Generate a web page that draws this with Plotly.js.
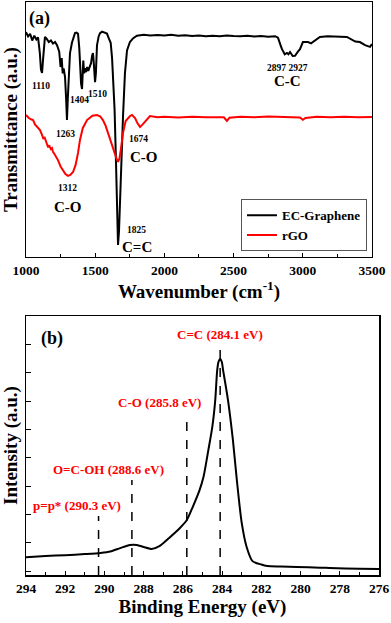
<!DOCTYPE html>
<html>
<head>
<meta charset="utf-8">
<script src="https://cdn.plot.ly/plotly-3.0.1.min.js"></script>
<style>
  html, body { margin: 0; padding: 0; background: #fff; }
  #chart { width: 391px; height: 623px; }
</style>
</head>
<body>
<div id="chart"></div>
<script>
// (a) FTIR spectra, wavenumber (cm-1) vs transmittance (a.u.)
const ecWavenumber = [1000, 1015, 1030, 1045, 1060, 1075, 1087, 1100, 1108, 1116, 1124, 1137, 1150, 1165, 1180, 1195, 1210, 1225, 1240, 1250, 1258, 1265, 1272, 1282, 1290, 1296, 1302, 1310, 1318, 1332, 1345, 1354, 1365, 1376, 1385, 1392, 1398, 1405, 1410, 1414, 1420, 1426, 1434, 1442, 1450, 1462, 1470, 1478, 1484, 1490, 1499, 1505, 1513, 1525, 1535, 1550, 1565, 1585, 1600, 1612, 1622, 1630, 1640, 1650, 1658, 1665, 1672, 1680, 1690, 1701, 1715, 1730, 1751, 1775, 1802, 1850, 1900, 1950, 2000, 2050, 2100, 2150, 2200, 2250, 2300, 2350, 2400, 2450, 2500, 2550, 2600, 2650, 2700, 2750, 2800, 2821, 2840, 2850, 2870, 2886, 2897, 2908, 2927, 2944, 2965, 2980, 3001, 3038, 3060, 3090, 3124, 3180, 3250, 3319, 3380, 3413, 3450, 3486, 3500];
const ecTransmittance = [88.2, 86.5, 87.5, 84.9, 86.8, 85.3, 86.1, 80, 73.5, 72.2, 78, 86.3, 85.5, 84.3, 84.9, 83.7, 84.3, 83, 80.5, 74.5, 78, 72, 74, 70.6, 62, 53.7, 62, 74, 80, 84, 86.8, 87.8, 88, 87.5, 82, 74, 68, 65.9, 72, 77, 72, 74, 72.5, 74.5, 73, 74.5, 76, 79, 80, 76, 68.6, 72, 83, 86.5, 87.8, 88.4, 88, 87.6, 85.5, 84, 78, 70, 58, 38, 18, 4.7, 10, 25, 40, 55, 72, 81, 84.3, 85.8, 86.8, 87.2, 86.9, 87.1, 86.9, 87.2, 86.8, 87.0, 86.7, 86.9, 86.6, 86.8, 86.6, 86.9, 86.7, 86.6, 86.8, 86.5, 86.7, 86.4, 86.6, 86.0, 83, 81.5, 79.5, 80, 79.5, 80.4, 78.8, 78.9, 80.5, 81.5, 84.3, 84.3, 83.8, 85, 86.3, 86.6, 86.3, 86.3, 84.5, 84.3, 83.1, 82.4, 83.5];

const rgoWavenumber = [1000, 1020, 1040, 1051, 1065, 1080, 1090, 1101, 1115, 1125, 1135, 1145, 1152, 1160, 1168, 1173, 1180, 1188, 1195, 1210, 1231, 1250, 1267, 1285, 1303, 1320, 1340, 1358, 1376, 1390, 1410, 1441, 1480, 1513, 1535, 1556, 1575, 1592, 1610, 1629, 1643, 1655, 1665, 1675, 1685, 1694, 1701, 1720, 1737, 1752, 1766, 1788, 1805, 1824, 1840, 1860, 1880, 1896, 1950, 2000, 2100, 2200, 2300, 2400, 2430, 2452, 2470, 2550, 2650, 2750, 2850, 2950, 2980, 3001, 3020, 3100, 3200, 3300, 3400, 3500];
const rgoTransmittance = [55.7, 54.5, 53.9, 53.7, 52, 51, 50.5, 49.8, 48, 46.5, 46.8, 44.7, 44.2, 43, 43.8, 43.1, 42.3, 42.7, 41.2, 40, 38, 35.5, 34.1, 32.5, 31.8, 32.2, 33.3, 36, 40.8, 45.9, 50.5, 53.7, 55.4, 55.7, 55.2, 53.7, 51.5, 48.6, 45.5, 43.1, 40.8, 38.5, 37.3, 38.5, 42, 45.9, 48.6, 53.3, 54.5, 55.3, 55.7, 54.5, 52.5, 51, 51.8, 52.9, 54.4, 55.3, 54.8, 55.0, 54.7, 55.0, 54.8, 55.0, 54.8, 53.4, 54.6, 55.0, 54.8, 55.1, 54.9, 54.8, 54.7, 53.8, 54.5, 55.0, 54.8, 55.0, 54.8, 54.9];

// (b) XPS C1s, binding energy (eV) vs intensity (a.u.)
const bindingEnergy = [294, 293, 292, 291, 290.2, 289.7, 289.2, 288.7, 288.35, 288.0, 287.6, 287.2, 286.7, 286.15, 285.8, 285.5, 285.15, 284.95, 284.7, 284.5, 284.35, 284.25, 284.18, 284.1, 284.02, 283.95, 283.7, 283.45, 283.25, 283.0, 282.75, 282.45, 282.0, 281.7, 281, 280.2, 279, 278.5, 277, 276];
const intensity = [4.9, 5.3, 5.6, 6.0, 6.4, 6.9, 8.1, 9.2, 9.2, 8.5, 7.8, 8.8, 11.7, 15.2, 18, 22.6, 28.6, 33.2, 42.8, 50.9, 60.4, 71, 74, 74.9, 74, 71, 60.4, 46.3, 32.2, 17, 8.5, 3.5, 2.3, 1.8, 1.6, 1.4, 1.2, 1.1, 0.8, 0.7];

const peakEnergies = [284.1, 285.8, 288.6, 290.3];
const peakLineTops = [78.8, 54.4, 32.2, 19.4];
const peakLabels = ['C=C (284.1 eV)', 'C-O (285.8 eV)', 'O=C-OH (288.6 eV)', 'p=p* (290.3 eV)'];
const peakLabelX = [284.11, 287.17, 289.77, 291.4];
const peakLabelY = [83.4, 59.4, 35.7, 23];

// labels on the FTIR panel
const irLabels = ['1110', '1263', '1404', '1510', '1674', '1312', '1825', '2897 2927'];
const irLabelX = [1108, 1282, 1387, 1516, 1816, 1303, 1802, 2893];
const irLabelY = [67.1, 48.2, 61.6, 63.9, 46.3, 27.1, 10.6, 74.1];
const bondLabels = ['C-O', 'C-O', 'C=C', 'C-C'];
const bondLabelX = [1853, 1303, 1802, 2893];
const bondLabelY = [39.2, 19.6, 3.9, 69];

const serif = 'Liberation Serif, Times New Roman, serif';

const data = [
  { x: ecWavenumber, y: ecTransmittance, type: 'scatter', mode: 'lines', name: 'EC-Graphene',
    line: { color: '#000000', width: 2 }, xaxis: 'x', yaxis: 'y' },
  { x: rgoWavenumber, y: rgoTransmittance, type: 'scatter', mode: 'lines', name: 'rGO',
    line: { color: '#ff0000', width: 2 }, xaxis: 'x', yaxis: 'y' },
  { x: bindingEnergy, y: intensity, type: 'scatter', mode: 'lines', showlegend: false,
    line: { color: '#000000', width: 2, shape: 'spline', smoothing: 0.7 }, xaxis: 'x2', yaxis: 'y2' }
];

const annotations = [];
irLabels.forEach((t, i) => annotations.push({
  text: t, x: irLabelX[i], y: irLabelY[i], xref: 'x', yref: 'y', showarrow: false,
  font: { family: serif, size: 9.5, color: '#000', weight: 'bold' }
}));
bondLabels.forEach((t, i) => annotations.push({
  text: t, x: bondLabelX[i], y: bondLabelY[i], xref: 'x', yref: 'y', showarrow: false,
  font: { family: serif, size: 15, color: '#000', weight: 'bold' }
}));
peakLabels.forEach((t, i) => annotations.push({
  text: t, x: peakLabelX[i], y: peakLabelY[i], xref: 'x2', yref: 'y2', showarrow: false,
  font: { family: serif, size: 13, color: '#ff0000', weight: 'bold' }
}));
annotations.push({ text: '(a)', x: 1101, y: 93.7, xref: 'x', yref: 'y', showarrow: false,
  font: { family: serif, size: 18, color: '#000', weight: 'bold' } });
annotations.push({ text: '(b)', x: 292.67, y: 82.3, xref: 'x2', yref: 'y2', showarrow: false,
  font: { family: serif, size: 18, color: '#000', weight: 'bold' } });

const shapes = peakEnergies.map((e, i) => ({
  type: 'line', xref: 'x2', yref: 'y2', x0: e, x1: e, y0: -1.4, y1: peakLineTops[i],
  line: { color: '#000', width: 1.5, dash: 'dash' }
}));

const tickFont = { family: serif, size: 13.5, color: '#000', weight: 'bold' };
const titleFont = { family: serif, size: 19, color: '#000', weight: 'bold' };
const frame = { showline: true, mirror: true, linecolor: '#000', linewidth: 1.5,
  showgrid: false, zeroline: false };

const layout = {
  width: 391, height: 623,
  margin: { l: 26, r: 12, t: 2, b: 48 },
  paper_bgcolor: '#fff', plot_bgcolor: '#fff',
  font: { family: serif, color: '#000' },
  showlegend: true,
  legend: {
    x: 0.609, y: 0.565, xanchor: 'left', yanchor: 'bottom',
    bgcolor: '#fff', bordercolor: '#555', borderwidth: 1,
    font: { family: serif, size: 13, color: '#000', weight: 'bold' },
    itemwidth: 30, tracegroupgap: 0
  },
  xaxis: Object.assign({}, frame, {
    domain: [0, 0.98], anchor: 'y', range: [1000, 3500],
    tick0: 1000, dtick: 500, ticks: 'inside', ticklen: 4, tickcolor: '#000',
    minor: { dtick: 250, ticks: 'inside', ticklen: 3, tickcolor: '#000' },
    tickfont: tickFont, tickprefix: '<b>', ticksuffix: '</b>',
    title: { text: '<b>Wavenumber (cm<sup>-1</sup>)</b>', font: titleFont, standoff: 2 }
  }),
  yaxis: Object.assign({}, frame, {
    domain: [0.555, 1], anchor: 'x', range: [0, 100],
    ticks: '', showticklabels: false,
    title: { text: '<b>Transmittance (a.u.)</b>', font: titleFont, standoff: 4 }
  }),
  xaxis2: Object.assign({}, frame, {
    domain: [0, 1], anchor: 'y2', range: [294, 276],
    tick0: 276, dtick: 2, ticks: 'inside', ticklen: 4, tickcolor: '#000',
    minor: { dtick: 1, ticks: 'inside', ticklen: 3, tickcolor: '#000' },
    tickfont: tickFont, tickprefix: '<b>', ticksuffix: '</b>',
    title: { text: '<b>Binding Energy (eV)</b>', font: titleFont, standoff: 2 }
  }),
  yaxis2: Object.assign({}, frame, {
    domain: [0, 0.452], anchor: 'x2', range: [-1.4, 90.1],
    tickvals: [0, 10, 20, 30, 40, 50, 60, 70, 80],
    ticks: 'inside', ticklen: 5, tickcolor: '#000', showticklabels: false,
    title: { text: '<b>Intensity (a.u.)</b>', font: titleFont, standoff: 4 }
  }),
  annotations: annotations,
  shapes: shapes
};

Plotly.newPlot('chart', data, layout, { displayModeBar: false, staticPlot: true });
</script>
</body>
</html>
